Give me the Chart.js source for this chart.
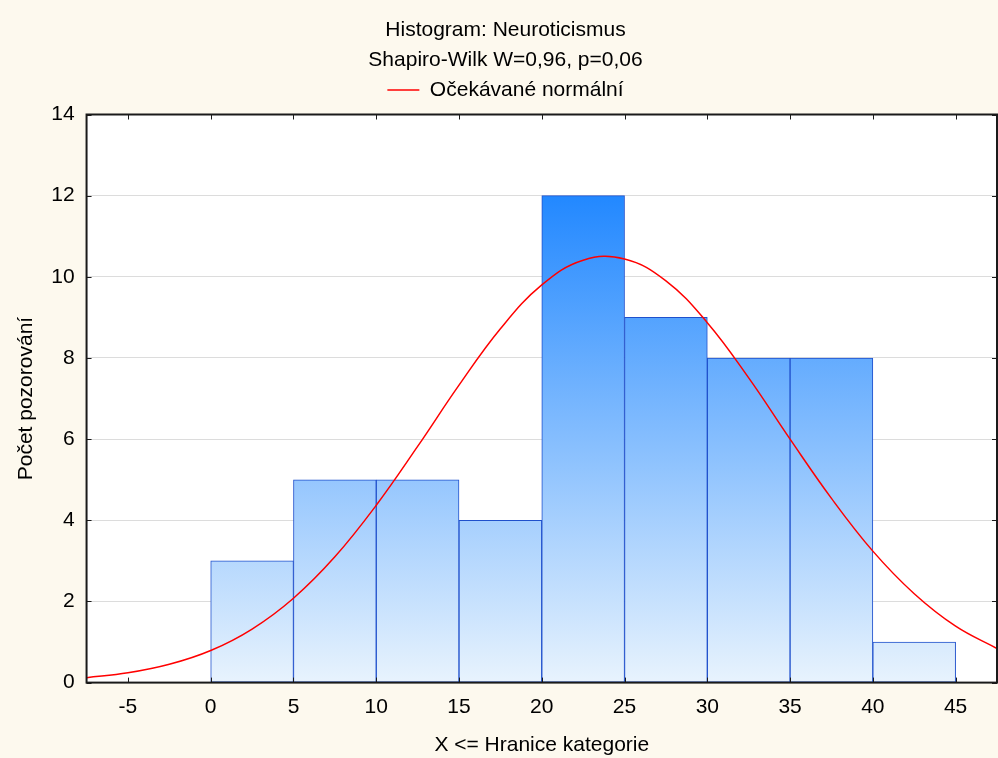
<!DOCTYPE html>
<html>
<head>
<meta charset="utf-8">
<title>Histogram: Neuroticismus</title>
<script src="https://cdn.jsdelivr.net/npm/chart.js@4.4.1/dist/chart.umd.min.js"></script>
<style>
  html, body { margin: 0; padding: 0; background: #fdf9ee; }
  #wrap { width: 998px; height: 758px; }
</style>
</head>
<body>
<div id="wrap"><canvas id="myChart" width="998" height="758"></canvas></div>
<script>
// histogram bins (centre of each 5-wide class) and counts
const binMid = [2.5, 7.5, 12.5, 17.5, 22.5, 27.5, 32.5, 37.5, 42.5];
const counts = [3, 5, 5, 4, 12, 9, 8, 8, 1];

// expected normal curve
const curveX = [-7.5, -5, -2.5, 0, 2.5, 5, 7.5, 10, 12.5, 15, 17.5, 20, 22.5,
  25, 27.5, 30, 32.5, 35, 37.5, 40, 42.5, 45, 47.5];
const curveY = [0.12, 0.24, 0.45, 0.79, 1.32, 2.08, 3.10, 4.37, 5.82, 7.33, 8.72, 9.80, 10.41,
  10.44, 9.90, 8.87, 7.51, 6.00, 4.54, 3.24, 2.19, 1.39, 0.84];

const xTicks = [-5, 0, 5, 10, 15, 20, 25, 30, 35, 40, 45];
const yTicks = [0, 2, 4, 6, 8, 10, 12, 14];

const FONT = 'Liberation Sans, Arial, sans-serif';
const FS = 21;

var barData = [];
for (var i = 0; i < binMid.length; i++) {
  barData.push({ x: binMid[i], y: counts[i] });
}
var lineData = [];
for (var j = 0; j < curveX.length; j++) {
  lineData.push({ x: curveX[j], y: curveY[j] });
}

// cream page, white plot area
const bgPlugin = {
  id: 'bg',
  beforeDraw(chart) {
    const c = chart.ctx, a = chart.chartArea;
    c.save();
    c.fillStyle = '#fdf9ee';
    c.fillRect(0, 0, chart.width, chart.height);
    c.fillStyle = '#ffffff';
    c.fillRect(a.left, a.top, a.right - a.left, a.bottom - a.top);
    c.restore();
  }
};

// frame round the plot with inward tick marks on all four sides
const framePlugin = {
  id: 'frame',
  afterDatasetsDraw(chart) {
    const c = chart.ctx, a = chart.chartArea;
    const xs = chart.scales.x, ys = chart.scales.y;
    const len = 5;
    c.save();
    c.strokeStyle = '#1a1a1a';
    c.lineWidth = 1;
    xs.ticks.forEach(function(t) {
      var px = Math.round(xs.getPixelForValue(t.value)) + 0.5;
      c.beginPath();
      c.moveTo(px, a.bottom); c.lineTo(px, a.bottom - len);
      c.moveTo(px, a.top); c.lineTo(px, a.top + len);
      c.stroke();
    });
    ys.ticks.forEach(function(t) {
      var py = Math.round(ys.getPixelForValue(t.value)) + 0.5;
      c.beginPath();
      c.moveTo(a.left, py); c.lineTo(a.left + len, py);
      c.moveTo(a.right, py); c.lineTo(a.right - len, py);
      c.stroke();
    });
    c.lineWidth = 2;
    c.strokeRect(a.left, a.top, a.right - a.left, a.bottom - a.top);
    c.restore();
  }
};

var ctx = document.getElementById('myChart').getContext('2d');
var chart = new Chart(ctx, {
  data: {
    datasets: [
      {
        type: 'line',
        label: 'Očekávané normální',
        data: lineData,
        borderColor: '#ff0000',
        borderWidth: 1.5,
        pointRadius: 0,
        tension: 0.4,
        fill: false,
        order: 0
      },
      {
        type: 'bar',
        label: 'bins',
        data: barData,
        backgroundColor: function(context) {
          const ch = context.chart;
          if (!ch.chartArea) return '#8fc3fb';
          const y = ch.scales.y;
          const g = ch.ctx.createLinearGradient(0, y.getPixelForValue(0), 0, y.getPixelForValue(12));
          g.addColorStop(0, '#e8f3fd');
          g.addColorStop(1, '#2288ff');
          return g;
        },
        borderColor: '#1f50cc',
        borderWidth: 1,
        borderSkipped: false,
        barPercentage: 1,
        categoryPercentage: 1,
        order: 1
      }
    ]
  },
  options: {
    responsive: false,
    animation: false,
    layout: { padding: { left: 14, right: 1, top: 0, bottom: 0 } },
    plugins: {
      title: {
        display: true,
        text: ['Histogram: Neuroticismus', 'Shapiro-Wilk W=0,96, p=0,06'],
        color: '#000',
        font: { family: FONT, size: FS, weight: 'normal', lineHeight: 30 / 21 },
        padding: { top: 15, bottom: 0 }
      },
      legend: {
        display: true,
        labels: {
          color: '#000',
          font: { family: FONT, size: FS },
          usePointStyle: true,
          pointStyle: 'line',
          pointStyleWidth: 32,
          padding: 4.5,
          filter: function(item) { return item.text !== 'bins'; }
        }
      },
      tooltip: { enabled: false }
    },
    scales: {
      x: {
        type: 'linear',
        offset: false,
        min: -7.5,
        max: 47.5,
        afterBuildTicks: function(scale) {
          scale.ticks = xTicks.map(function(v) { return { value: v }; });
        },
        ticks: {
          color: '#000',
          font: { family: FONT, size: FS },
          padding: 12,
          maxRotation: 0
        },
        grid: { display: false, drawTicks: false },
        border: { display: false },
        title: {
          display: true,
          text: 'X <= Hranice kategorie',
          color: '#000',
          font: { family: FONT, size: FS },
          padding: { top: 1, bottom: 0 }
        }
      },
      // empty mirror axis on top, only keeps a small gap under the legend
      xTop: {
        type: 'linear',
        position: 'top',
        offset: false,
        min: -7.5,
        max: 47.5,
        ticks: { display: false },
        grid: { display: true, drawOnChartArea: false, drawTicks: true, tickLength: 4, tickColor: 'rgba(0,0,0,0)' },
        border: { display: false }
      },
      y: {
        type: 'linear',
        min: 0,
        max: 14,
        afterBuildTicks: function(scale) {
          scale.ticks = yTicks.map(function(v) { return { value: v }; });
        },
        ticks: {
          color: '#000',
          font: { family: FONT, size: FS },
          padding: 12
        },
        grid: { color: '#dcdcdc', lineWidth: 1, drawTicks: false },
        border: { display: false },
        title: {
          display: true,
          text: 'Počet pozorování',
          color: '#000',
          font: { family: FONT, size: FS },
          padding: { top: 0, bottom: 0 }
        }
      }
    }
  },
  plugins: [bgPlugin, framePlugin]
});
</script>
</body>
</html>
